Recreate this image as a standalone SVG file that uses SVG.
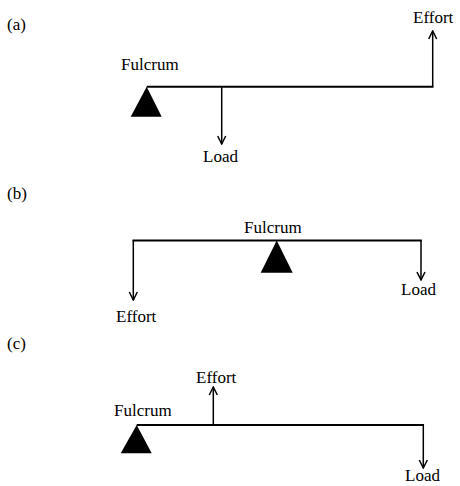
<svg xmlns="http://www.w3.org/2000/svg" width="460" height="486" viewBox="0 0 460 486">
<defs>
<style>
text{font-family:"Liberation Serif","Times New Roman",serif;font-size:17px;fill:#000}
.beam{stroke:#000;stroke-width:2;fill:none}
.arr{stroke:#000;stroke-width:1.5;fill:none;marker-end:url(#ah)}
.ful{fill:#000}
</style>
<marker id="ah" viewBox="0 0 10 10" refX="9" refY="5" markerWidth="10" markerHeight="10" markerUnits="userSpaceOnUse" orient="auto">
<path d="M1,1 L9,5 L1,9" fill="none" stroke="#000" stroke-width="1.5"/>
</marker>
</defs>
<rect width="460" height="486" fill="#fff"/>
<text x="7" y="30">(a)</text>
<text x="7" y="199">(b)</text>
<text x="7" y="349">(c)</text>

<g id="lever-a">
<g id="a-fulcrum"><polygon class="ful" points="146.7,86.7 130.7,116.7 161.7,116.7"/><text x="121" y="70">Fulcrum</text></g>
<g id="a-load"><text x="203" y="162">Load</text></g>
<g id="a-effort"><text x="413" y="23">Effort</text></g>
<g id="a-connectors">
<line class="beam" x1="146.7" y1="86.7" x2="433.5" y2="86.7"/>
<line class="arr" x1="221.7" y1="86.7" x2="221.7" y2="144"/>
<line class="arr" x1="432.7" y1="86.7" x2="432.7" y2="31"/>
</g>
</g>

<g id="lever-b">
<g id="b-fulcrum"><polygon class="ful" points="276.7,240.5 260.7,272.7 292.7,272.7"/><text x="244" y="233">Fulcrum</text></g>
<g id="b-effort"><text x="116" y="322">Effort</text></g>
<g id="b-load"><text x="401" y="295">Load</text></g>
<g id="b-connectors">
<line class="beam" x1="132.5" y1="240.5" x2="421.8" y2="240.5"/>
<line class="arr" x1="133.3" y1="240.5" x2="133.3" y2="300"/>
<line class="arr" x1="421" y1="240.5" x2="421" y2="280"/>
</g>
</g>

<g id="lever-c">
<g id="c-fulcrum"><polygon class="ful" points="136.7,425 120.7,453.3 151.7,453.3"/><text x="114" y="416">Fulcrum</text></g>
<g id="c-effort"><text x="196" y="383">Effort</text></g>
<g id="c-load"><text x="405" y="481">Load</text></g>
<g id="c-connectors">
<line class="beam" x1="136.7" y1="425" x2="424" y2="425"/>
<line class="arr" x1="213.3" y1="425" x2="213.3" y2="387"/>
<line class="arr" x1="423.3" y1="425" x2="423.3" y2="468"/>
</g>
</g>
</svg>
